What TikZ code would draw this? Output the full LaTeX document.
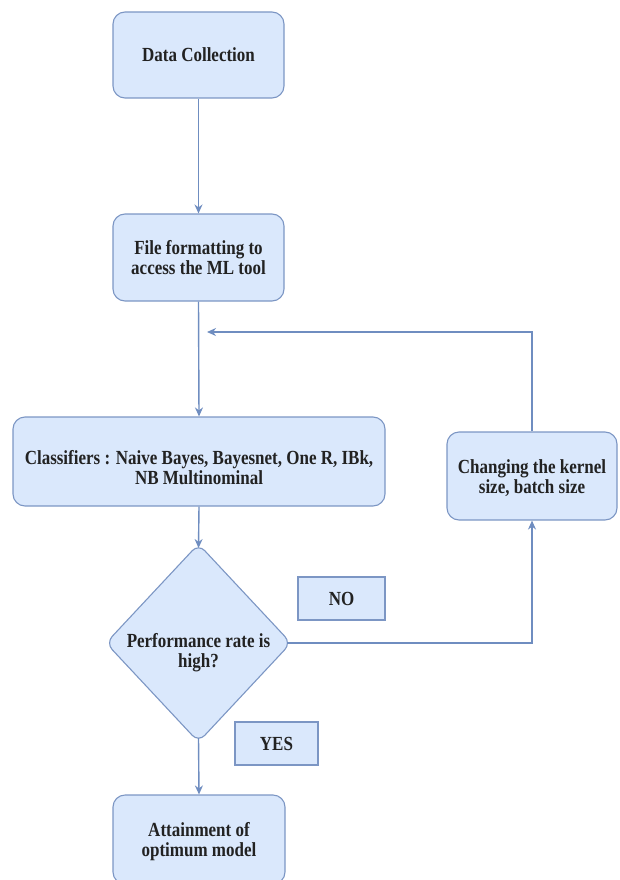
\documentclass[tikz,border=0pt]{standalone}
\usepackage{fontspec}
\usepackage{graphicx}
\setmainfont{Liberation Serif}
\usetikzlibrary{arrows.meta}
\definecolor{boxfill}{HTML}{DAE8FC}
\definecolor{boxline}{HTML}{7C96C4}
\definecolor{arrowcol}{HTML}{6F8DC0}
\definecolor{txtcol}{HTML}{222222}
\newcommand{\dtext}[1]{\raisebox{-3pt}[\height][\depth]{\scalebox{0.85}[1]{\begin{tabular}{@{}c@{}}#1\end{tabular}}}}
\tikzset{
  base/.style={draw=boxline, fill=boxfill, line width=1.1pt, align=center, inner sep=2pt,
    text=txtcol, font=\rmfamily\bfseries\fontsize{20}{20}\selectfont},
  roundbox/.style={base, rounded corners=12pt},
  labelbox/.style={base, rounded corners=0pt},
  conn/.style={draw=arrowcol, line width=1.4pt, -{Stealth[length=9pt,width=8pt]}}
}
\begin{document}
\begin{tikzpicture}[x=1pt,y=-1pt]
\useasboundingbox (0,0) rectangle (619,880);
\clip (0,0) rectangle (619,880);
% boxes
\node[roundbox, minimum width=171pt, minimum height=86pt] (dc) at (198.5,55) {\dtext{Data Collection}};
\node[roundbox, minimum width=171pt, minimum height=87pt] (ff) at (198.5,257.5) {\dtext{File formatting to\\access the ML tool}};
\node[roundbox, minimum width=372pt, minimum height=89pt] (cl) at (199,461.5)
  {\raisebox{-11pt}[0pt][0pt]{\dtext{Classifiers : Naive Bayes, Bayesnet, One R, IBk,\\NB Multinominal}}};
\node[roundbox, minimum width=170pt, minimum height=88pt] (ck) at (532,476) {\dtext{Changing the kernel\\size, batch size}};
\node[roundbox, minimum width=172pt, minimum height=89pt] (am) at (199,839.5) {\dtext{Attainment of\\optimum model}};
% decision
\coordinate (dtop) at (198.5,544);
\coordinate (dright) at (291,643);
\coordinate (dbot) at (198.5,742);
\coordinate (dleft) at (106,643);
\filldraw[draw=boxline, fill=boxfill, line width=1.1pt, rounded corners=9pt]
  (dtop) -- (dright) -- (dbot) -- (dleft) -- cycle;
\node[align=center, text=txtcol, font=\rmfamily\bfseries\fontsize{20}{20}\selectfont] (dec) at (198.5,650) {\dtext{Performance rate is\\high?}};
\coordinate (dtopr) at (198.5,548);
\coordinate (dbotr) at (198.5,738);
\coordinate (drightr) at (287,643);
% labels
\node[labelbox, minimum width=87pt, minimum height=43pt] (no) at (341.5,598.5) {\dtext{NO}};
\node[labelbox, minimum width=83pt, minimum height=43pt] (yes) at (276.5,743.5) {\dtext{YES}};
% connectors
\draw[conn] (dc.south) -- (ff.north);
\draw[conn] (ff.south) -- (cl.north);
\draw[conn] (cl.south) -- (dtopr);
\draw[conn] (dbotr) -- (am.north);
\draw[conn] (drightr) -| (ck.south);
\coordinate (loopend) at (207,332);
\draw[conn] (ck.north) |- (loopend);
\end{tikzpicture}
\end{document}
